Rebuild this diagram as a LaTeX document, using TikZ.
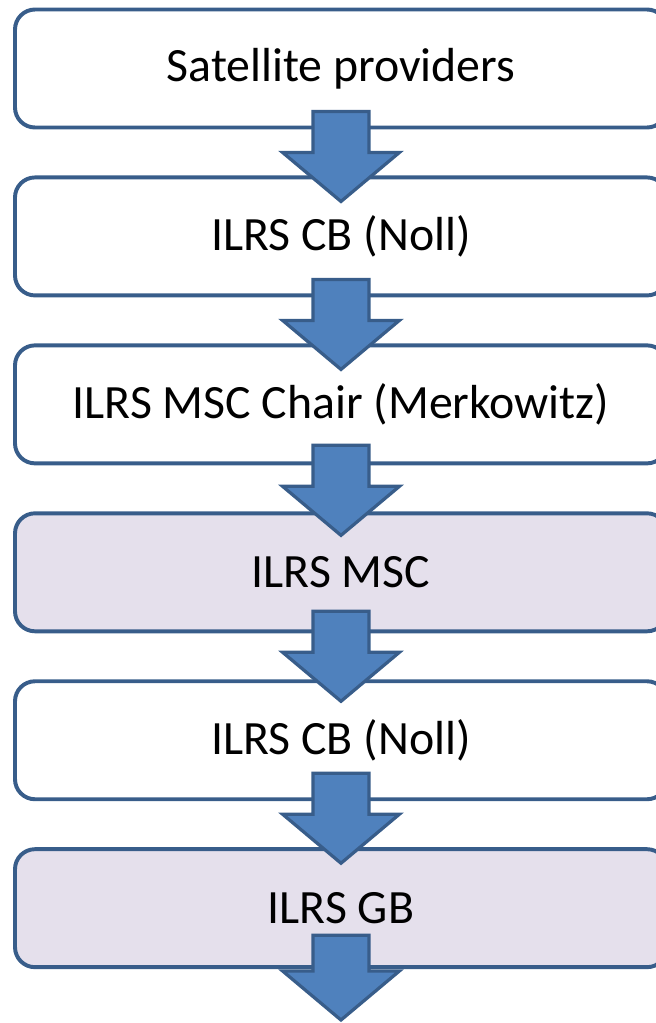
\documentclass[tikz,border=0pt]{standalone}
\usepackage{fontspec}
\setmainfont{Carlito}
\usetikzlibrary{positioning,calc}

\definecolor{boxline}{HTML}{385D8A}
\definecolor{arrowfill}{HTML}{4F81BD}
\definecolor{lavender}{HTML}{E5E0EC}

\tikzset{
  stage/.style={draw=boxline,line width=2.8pt,rounded corners=0.5cm,fill=white,
    minimum width=16.3cm,minimum height=2.95cm,inner sep=0pt,
    font=\fontsize{34}{40}\selectfont},
  shaded/.style={stage,fill=lavender},
  blockarrow/.style={draw=boxline,fill=arrowfill,line width=2.3pt,line join=miter}
}

% block arrow from #1 (top of shaft) to #2 (tip)
\newcommand{\flowarrow}[2]{
  \draw[blockarrow] let \p1=(#1), \p2=(#2) in
    ({\x1-0.7cm},\y1) -- ({\x1+0.7cm},\y1) -- ({\x1+0.7cm},{\y2+1.225cm})
    -- ({\x1+1.46cm},{\y2+1.225cm}) -- (\x2,\y2) -- ({\x1-1.46cm},{\y2+1.225cm})
    -- ({\x1-0.7cm},{\y2+1.225cm}) -- cycle;
}

\begin{document}
\begin{tikzpicture}
  \useasboundingbox (0,0) rectangle (16.4,-25.575);
  \node[stage] (sat) at (8.525,-1.7125) {Satellite providers};
  \node[stage,below=1.15cm of sat] (cb) {ILRS CB (Noll)};
  \node[stage,below=1.15cm of cb] (chair) {ILRS MSC Chair (Merkowitz)};
  \node[shaded,below=1.15cm of chair] (msc) {ILRS MSC};
  \node[stage,below=1.15cm of msc] (cbtwo) {ILRS CB (Noll)};
  \node[shaded,below=1.15cm of cbtwo] (gb) {ILRS GB};
  \coordinate (out) at (8.525,-25.5);

  % arrows on top of the boxes
  \flowarrow{$(sat.south)+(0,0.45)$}{$(cb.north)+(0,-0.65)$}
  \flowarrow{$(cb.south)+(0,0.45)$}{$(chair.north)+(0,-0.65)$}
  \flowarrow{$(chair.south)+(0,0.5)$}{$(msc.north)+(0,-0.6)$}
  \flowarrow{$(msc.south)+(0,0.55)$}{$(cbtwo.north)+(0,-0.55)$}
  \flowarrow{$(cbtwo.south)+(0,0.7)$}{$(gb.north)+(0,-0.4)$}
  \flowarrow{$(gb.south)+(0,0.85)$}{out}
\end{tikzpicture}
\end{document}
